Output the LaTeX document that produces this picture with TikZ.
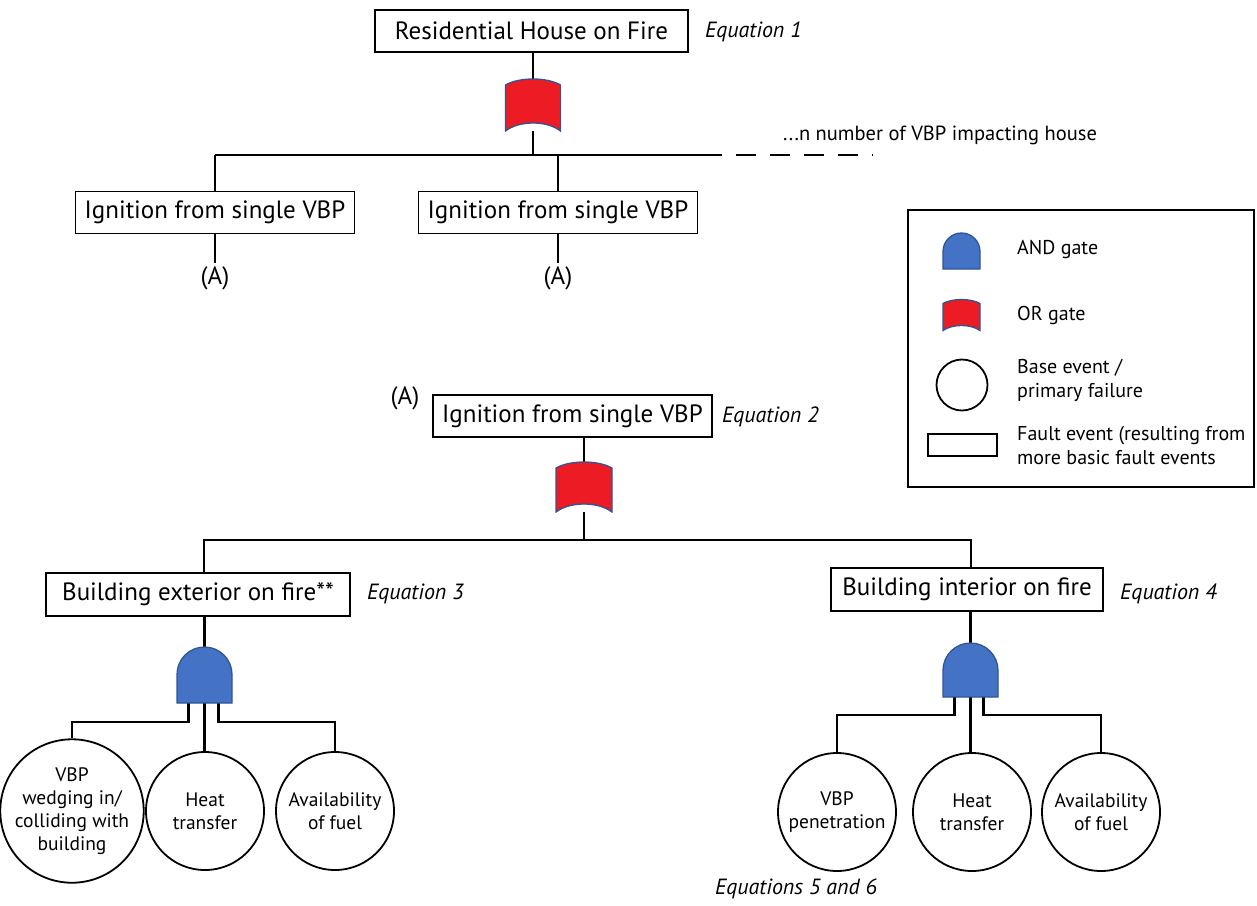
\documentclass[tikz,border=0pt]{standalone}
\usepackage{fontspec}
\setmainfont{PT Sans}
\usetikzlibrary{calc}
\definecolor{orred}{HTML}{ED1C24}
\definecolor{andblue}{HTML}{4472C4}
\definecolor{gateedge}{HTML}{2F5597}
\newcommand{\drawor}[4]{% name, top bulge, bottom bulge, control x offset
  \path[orshape] ($(#1.north west)+(0,#2)$) .. controls ($(#1.north)+(-#4,-#2/3)$) and ($(#1.north)+(#4,-#2/3)$) .. ($(#1.north east)+(0,#2)$)
    -- (#1.south east) .. controls ($(#1.south)+(#4,-#3*4/3)$) and ($(#1.south)+(-#4,-#3*4/3)$) .. (#1.south west) -- cycle;}
\newcommand{\drawand}[2]{% name, radius
  \path[andshape] (#1.south west) -- ($(#1.north west)+(0,#2)$) arc[start angle=180,end angle=0,radius=#2pt] -- (#1.south east) -- cycle;}
\begin{document}
\begin{tikzpicture}[x=1pt,y=-1pt,
  conn/.style={line width=2.4pt,black},
  evbox/.style={draw,line width=1.6pt,minimum height=42pt,inner sep=0pt,font=\fontsize{25}{29}\selectfont},
  basic/.style={draw,circle,fill=white,line width=1.8pt,minimum size=118pt,inner sep=0pt,align=center,font=\fontsize{19.5}{23}\selectfont},
  eqlab/.style={anchor=west,inner sep=0pt,font=\fontsize{22}{26}\selectfont\itshape},
  alab/.style={inner sep=3pt,font=\fontsize{25}{29}\selectfont},
  gatebox/.style={inner sep=0pt,outer sep=0pt},
  orshape/.style={fill=orred,draw=gateedge,line width=1.3pt},
  andshape/.style={fill=andblue,draw=gateedge,line width=1.3pt},
  legtext/.style={anchor=west,inner sep=0pt,align=left,font=\fontsize{20}{24}\selectfont},
  dashpart/.style={line width=2.4pt,dash pattern=on 20pt off 14pt,dash phase=20pt}]
\useasboundingbox (0,0) rectangle (1257,905);

% ---------- tree 1 ----------
\node[evbox,minimum width=313pt] (top) at (531.5,31) {Residential House on Fire};
\node[eqlab] (eq1) at (705,32) {Equation 1};
\node[gatebox,minimum width=55pt,minimum height=52pt] (g1) at (533,105) {};
\coordinate (bus1) at (533,155);
\coordinate (bus1L) at (215,155);
\coordinate (bus1R) at (722,155);
\coordinate (bus1E) at (873,155);
\node[evbox,minimum width=279pt] (c1) at (215,212.5) {Ignition from single VBP};
\node[evbox,minimum width=279pt] (c2) at (558,212.5) {Ignition from single VBP};
\node[alab] (a1) at (215,278) {(A)};
\node[alab] (a2) at (558,278) {(A)};
\node[anchor=west,inner sep=0pt,font=\fontsize{20.5}{24}\selectfont] (nvbp) at (783,135) {...n number of VBP impacting house};

\draw[conn] (g1.north |- top.south) -- (g1.north);
\draw[conn] (g1.south) -- (bus1);
\draw[conn] (bus1L) -- (bus1R);
\draw[dashpart] (bus1R) -- (bus1E);
\draw[conn] (bus1L) -- (c1.north);
\draw[conn] (c2.north |- bus1) -- (c2.north);
\draw[conn] (c1.south) -- (a1.north);
\draw[conn] (c2.south) -- (a2.north);
\drawor{g1}{6}{8}{14}

% ---------- tree 2 ----------
\node[alab] (a3) at (405,398) {(A)};
\node[evbox,minimum width=279pt] (b2) at (572.5,416) {Ignition from single VBP};
\node[eqlab] (eq2) at (722,417) {Equation 2};
\node[gatebox,minimum width=56pt,minimum height=50pt] (g2) at (584,487) {};
\coordinate (bus2L) at (204,540);
\coordinate (bus2R) at (971,540);
\node[evbox,minimum width=304pt,minimum height=43pt] (b3) at (198,594.5) {Building exterior on fire**};
\node[eqlab] (eq3) at (367,594) {Equation 3};
\node[evbox,minimum width=272pt,minimum height=43pt] (b4) at (967,589.5) {Building interior on fire};
\node[eqlab] (eq4) at (1120,594) {Equation 4};

\draw[conn] (g2.north |- b2.south) -- (g2.north);
\draw[conn] (g2.south) -- (g2.south |- bus2L);
\draw[conn] (b3.north -| bus2L) -- (bus2L) -- (bus2R) -- (bus2R |- b4.north);
\drawor{g2}{6}{8}{14}

% left AND branch
\node[gatebox,minimum width=55pt,minimum height=56pt] (g3) at (204.5,675) {};
\coordinate (j3) at (0,722);
\node[basic] (e1) at (72,811) {VBP\\wedging in/\\colliding with\\building};
\node[basic] (e2) at (205,811) {Heat\\transfer};
\node[basic] (e3) at (335,811) {Availability\\of fuel};
\draw[conn] (g3.north |- b3.south) -- (g3.north);
\draw[conn] ($(g3.south)+(-16,0)$) |- (e1.north |- j3) -- (e1.north);
\draw[conn] (g3.south) -- (g3.south |- e2.north);
\draw[conn] ($(g3.south)+(14,0)$) |- (e3.north |- j3) -- (e3.north);
\drawand{g3}{27.5}

% right AND branch
\node[gatebox,minimum width=55pt,minimum height=54pt] (g4) at (970.5,670) {};
\coordinate (j4) at (0,715);
\node[basic] (f1) at (837,812) {VBP\\penetration};
\node[basic] (f2) at (972,812) {Heat\\transfer};
\node[basic] (f3) at (1101,812) {Availability\\of fuel};
\node[eqlab] (eq56) at (715,889) {Equations 5 and 6};
\draw[conn] (g4.north |- b4.south) -- (g4.north);
\draw[conn] ($(g4.south)+(-16,0)$) |- (f1.north |- j4) -- (f1.north);
\draw[conn] (g4.south) -- (g4.south |- f2.north);
\draw[conn] ($(g4.south)+(13,0)$) |- (f3.north |- j4) -- (f3.north);
\drawand{g4}{27.5}

% ---------- legend ----------
\node[draw,line width=1.6pt,minimum width=346pt,minimum height=277pt,inner sep=0pt] (legend) at (1081,348.5) {};
\node[gatebox,minimum width=37pt,minimum height=36pt] (landg) at (961.5,251) {};
\drawand{landg}{18.5}
\node[legtext] (landt) at (1017,250) {AND gate};
\node[gatebox,minimum width=37pt,minimum height=31pt] (lorg) at (961.5,315) {};
\drawor{lorg}{4}{5}{9}
\node[legtext] (lort) at (1017,315) {OR gate};
\node[draw,circle,line width=1.8pt,minimum size=51pt,inner sep=0pt] (lcirc) at (962,385) {};
\node[legtext] (lcirct) at (1017,380) {Base event /\\primary failure};
\node[draw,line width=1.6pt,minimum width=69pt,minimum height=22pt,inner sep=0pt] (lrect) at (962.5,445) {};
\node[legtext] (lrectt) at (1017,445) {Fault event (resulting from\\more basic fault events};
\end{tikzpicture}
\end{document}
